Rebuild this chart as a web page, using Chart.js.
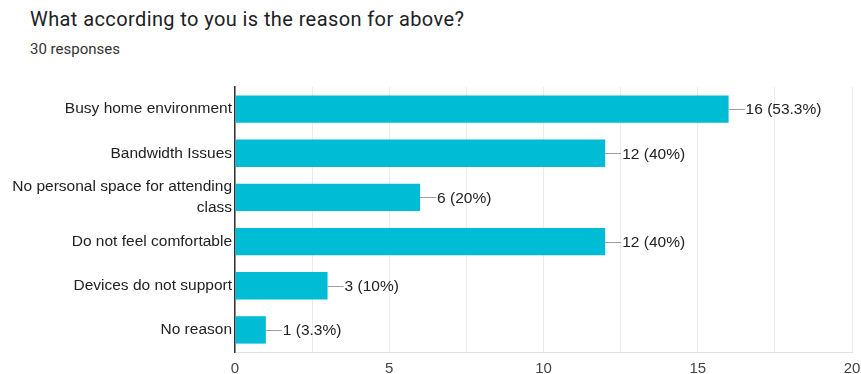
<!DOCTYPE html>
<html>
<head>
<meta charset="utf-8">
<script src="https://cdn.jsdelivr.net/npm/chart.js@4.4.0/dist/chart.umd.min.js"></script>
<style>
  html, body { margin: 0; padding: 0; background: #fff; overflow: hidden; }
  #wrap { position: relative; width: 861px; height: 374px; }
  #title { position: absolute; left: 30px; top: 7px; font: 20px Roboto, sans-serif; letter-spacing: 0.4px; color: #202124; white-space: nowrap; }
  #sub { position: absolute; left: 30px; top: 40px; font: 15px Roboto, sans-serif; color: #333; white-space: nowrap; }
  canvas { position: absolute; left: 0; top: 0; }
</style>
</head>
<body>
<div id="wrap">
  <div id="title">What according to you is the reason for above?</div>
  <div id="sub">30 responses</div>
  <canvas id="myChart" width="861" height="374"></canvas>
</div>
<script>
// data
const categories = [
    "Busy home environment",
    "Bandwidth Issues",
    ["No personal space for attending", "class"],
    "Do not feel comfortable",
    "Devices do not support",
    "No reason"
];
const counts = [16, 12, 6, 12, 3, 1];
const totalResponses = 30;
const xTicks = [0, 5, 10, 15, 20];

// value label with a short connector line, like google forms
const valueLabels = {
    id: "valueLabels",
    afterDatasetsDraw(chart) {
        const ctx = chart.ctx;
        const meta = chart.getDatasetMeta(0);
        ctx.save();
        ctx.font = "15.5px 'Liberation Sans', Arial, sans-serif";
        ctx.textBaseline = "middle";
        ctx.textAlign = "left";
        meta.data.forEach((bar, i) => {
            const v = counts[i];
            const pct = Math.round(v / totalResponses * 1000) / 10;
            ctx.strokeStyle = "#9e9e9e";
            ctx.lineWidth = 1;
            ctx.beginPath();
            ctx.moveTo(bar.x, Math.round(bar.y) + 0.5);
            ctx.lineTo(bar.x + 16, Math.round(bar.y) + 0.5);
            ctx.stroke();
            ctx.fillStyle = "#222";
            ctx.fillText(v + " (" + pct + "%)", bar.x + 17, bar.y + 1);
        });
        ctx.restore();
    }
};

const ctx = document.getElementById("myChart").getContext("2d");

new Chart(ctx, {
    type: "bar",
    data: {
        labels: categories,
        datasets: [{
            data: counts,
            backgroundColor: "#00bcd4",
            borderWidth: 0,
            barPercentage: 0.62,
            categoryPercentage: 1
        }]
    },
    options: {
        indexAxis: "y",
        responsive: false,
        animation: false,
        layout: { padding: { top: 87, right: 9, bottom: 0, left: 0 } },
        plugins: {
            legend: { display: false },
            tooltip: { enabled: false }
        },
        scales: {
            x: {
                min: 0,
                max: 20,
                ticks: {
                    stepSize: 2.5,
                    maxRotation: 0,
                    autoSkip: false,
                    padding: 8,
                    color: "#444",
                    font: { family: "'Liberation Sans', Arial, sans-serif", size: 15 },
                    callback: (v) => xTicks.includes(v) ? v : ""
                },
                grid: { color: "#ebebeb", drawTicks: false },
                border: { color: "#e0e0e0" },
                afterFit(scale) {
                    scale.height = 22;
                    scale.paddingLeft = 0;
                    scale.paddingRight = 0;
                }
            },
            y: {
                ticks: {
                    autoSkip: false,
                    padding: 3,
                    color: "#222",
                    font: { family: "'Liberation Sans', Arial, sans-serif", size: 15.5, lineHeight: 1.35 }
                },
                grid: { display: false, drawTicks: false },
                border: { color: "#333", width: 1.5 },
                afterFit(scale) { scale.width = 235; }
            }
        }
    },
    plugins: [valueLabels]
});
</script>
</body>
</html>
